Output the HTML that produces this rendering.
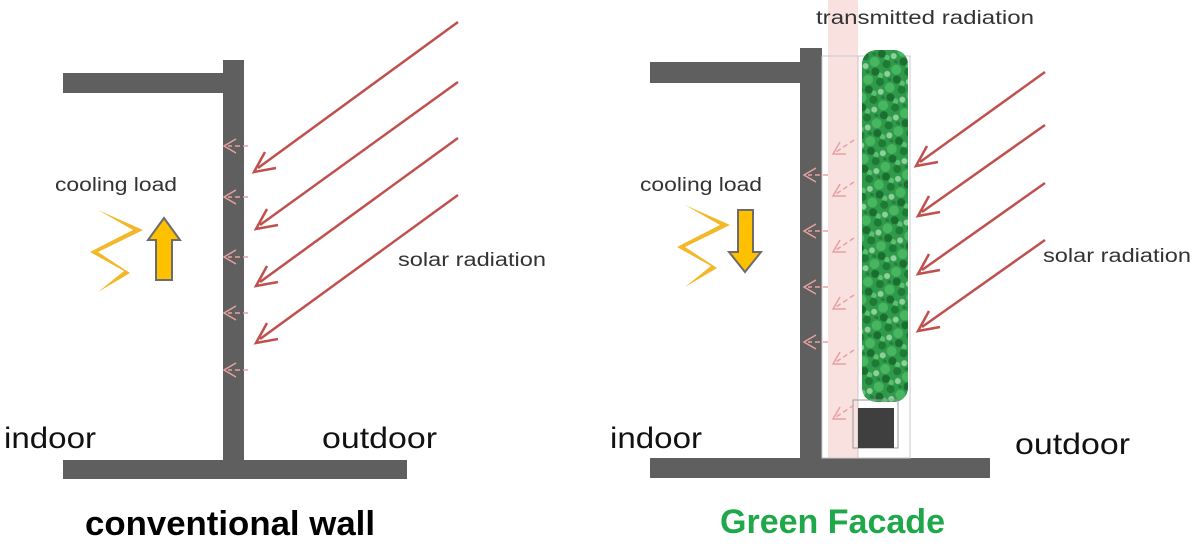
<!DOCTYPE html>
<html><head><style>html,body{margin:0;padding:0;background:#fff}svg{display:block}</style></head>
<body>
<svg width="1200" height="547" viewBox="0 0 1200 547" xmlns="http://www.w3.org/2000/svg" font-family="Liberation Sans, sans-serif">
<defs>
<pattern id="leaf" width="23" height="19" patternUnits="userSpaceOnUse" patternTransform="rotate(20)">
<rect width="23" height="19" fill="#2f9a4a"/>
<circle cx="4" cy="4" r="4" fill="#1e7a35"/>
<circle cx="15" cy="6" r="5" fill="#48b560"/>
<circle cx="8" cy="13" r="3" fill="#8fcf9c"/>
<circle cx="19" cy="15" r="4" fill="#1b6e30"/>
<circle cx="2" cy="17" r="3" fill="#5cc070"/>
<circle cx="12" cy="18" r="2" fill="#237f3b"/>
</pattern>
</defs>
<!-- LEFT -->
<rect x="63" y="73" width="172" height="20" fill="#5f5f5f"/>
<rect x="223" y="60" width="21" height="402" fill="#5f5f5f"/>
<rect x="63" y="460" width="344" height="19" fill="#5f5f5f"/>
<g stroke="#c0504d" stroke-width="2.5" fill="none">
<line x1="458" y1="22" x2="258" y2="168"/><path d="M265,152 L254,172 L276,168"/>
<line x1="458" y1="82" x2="260" y2="225"/><path d="M267,209 L256,229 L278,225"/>
<line x1="458" y1="138" x2="260" y2="282"/><path d="M267,266 L256,286 L278,282"/>
<line x1="458" y1="195" x2="260" y2="339"/><path d="M267,323 L256,343 L278,339"/>
</g>
<g stroke="#e8a0a0" stroke-width="1.5" fill="none">
<g id="pl"><line x1="248" y1="146" x2="228" y2="146" stroke-dasharray="5,3"/><path d="M236,139 L224,146 L236,153"/></g>
<use href="#pl" y="51"/><use href="#pl" y="111"/><use href="#pl" y="167"/><use href="#pl" y="224"/>
</g>
<text x="55" y="191" font-size="19" fill="#333" textLength="122" lengthAdjust="spacingAndGlyphs">cooling load</text>
<path d="M98,210 L143,230 L98,252 L130,273 L98,292 L124,271 L90,252 L133,230 Z" fill="#f2b829"/>
<path d="M156,280 L156,240 L148,240 L164,218 L180,240 L172,240 L172,280 Z" fill="#ffc000" stroke="#6c6c6c" stroke-width="2"/>
<text x="398" y="266" font-size="19" fill="#333" textLength="148" lengthAdjust="spacingAndGlyphs">solar radiation</text>
<text x="4" y="448" font-size="30" fill="#111" textLength="92" lengthAdjust="spacingAndGlyphs">indoor</text>
<text x="322" y="448" font-size="30" fill="#111" textLength="115" lengthAdjust="spacingAndGlyphs">outdoor</text>
<text x="85" y="535" font-size="34" font-weight="bold" fill="#000" textLength="290" lengthAdjust="spacingAndGlyphs">conventional wall</text>
<!-- RIGHT -->
<rect x="828" y="0" width="30" height="462" fill="#f9e1df"/>
<rect x="650" y="62" width="172" height="21" fill="#5f5f5f"/>
<rect x="800" y="48" width="22" height="414" fill="#5f5f5f"/>
<rect x="650" y="458" width="340" height="20" fill="#5f5f5f"/>
<rect x="822" y="56" width="88" height="402" fill="none" stroke="#c8c8c8" stroke-width="1"/>
<line x1="858" y1="56" x2="858" y2="458" stroke="#c8c8c8"/>
<rect x="862" y="50" width="46" height="352" fill="url(#leaf)" rx="14"/>
<rect x="853" y="400" width="45" height="48" fill="none" stroke="#999"/>
<rect x="858" y="408" width="36" height="40" fill="#3f3f3f"/>
<g stroke="#c0504d" stroke-width="2.5" fill="none">
<line x1="1045" y1="72" x2="920" y2="162"/><path d="M927,146 L916,166 L938,162"/>
<line x1="1045" y1="125" x2="922" y2="212"/><path d="M929,196 L918,216 L940,212"/>
<line x1="1045" y1="183" x2="922" y2="270"/><path d="M929,254 L918,274 L940,270"/>
<line x1="1045" y1="240" x2="922" y2="327"/><path d="M929,311 L918,331 L940,327"/>
</g>
<g stroke="#e8a0a0" stroke-width="1.5" fill="none">
<g id="pr"><line x1="828" y1="175" x2="808" y2="175" stroke-dasharray="5,3"/><path d="M816,168 L804,175 L816,182"/></g>
<use href="#pr" y="56"/><use href="#pr" y="112"/><use href="#pr" y="167"/>
<g id="pd"><line x1="854" y1="140" x2="836" y2="152" stroke-dasharray="5,3"/><path d="M840,142 L833,154 L846,154"/></g>
<use href="#pd" y="42"/><use href="#pd" y="98"/><use href="#pd" y="155"/><use href="#pd" y="210"/><use href="#pd" y="265"/>
</g>
<text x="816" y="24" font-size="19" fill="#333" textLength="218" lengthAdjust="spacingAndGlyphs">transmitted radiation</text>
<text x="640" y="191" font-size="19" fill="#333" textLength="122" lengthAdjust="spacingAndGlyphs">cooling load</text>
<path d="M685,205 L730,225 L685,247 L717,268 L685,287 L711,266 L677,247 L720,225 Z" fill="#f2b829"/>
<path d="M738,210 L738,252 L729,252 L745,272 L761,252 L753,252 L753,210 Z" fill="#ffc000" stroke="#6c6c6c" stroke-width="2"/>
<text x="1043" y="262" font-size="19" fill="#333" textLength="148" lengthAdjust="spacingAndGlyphs">solar radiation</text>
<text x="610" y="448" font-size="30" fill="#111" textLength="92" lengthAdjust="spacingAndGlyphs">indoor</text>
<text x="1015" y="454" font-size="30" fill="#111" textLength="115" lengthAdjust="spacingAndGlyphs">outdoor</text>
<text x="720" y="533" font-size="34" font-weight="bold" fill="#1fa84a" textLength="225" lengthAdjust="spacingAndGlyphs">Green Facade</text>
</svg>
</body></html>
